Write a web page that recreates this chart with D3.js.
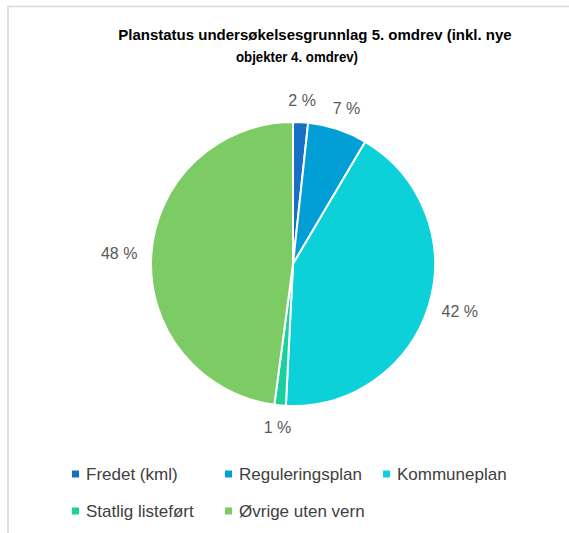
<!DOCTYPE html>
<html>
<head>
<meta charset="utf-8">
<script src="https://cdn.jsdelivr.net/npm/d3@7"></script>
<style>
  body { margin: 0; background: #fff; }
  svg { display: block; font-family: "Liberation Sans", Arial, sans-serif; }
</style>
</head>
<body>
<div id="chart"></div>
<script>
// data
const titleLines = ['Planstatus undersøkelsesgrunnlag 5. omdrev (inkl. nye', 'objekter 4. omdrev)'];
const categories = ['Fredet (kml)', 'Reguleringsplan', 'Kommuneplan', 'Statlig listeført', 'Øvrige uten vern'];
const shares = [1.7, 6.8, 42.3, 1.3, 47.9];
const colors = ['#1570c6', '#029fd6', '#0dd1d9', '#1ad19d', '#7dcb64'];

const width = 569, height = 533;
const cx = 293, cy = 264, r = 142;

const svg = d3.select('#chart').append('svg')
  .attr('width', width)
  .attr('height', height);

// chart frame (only left and top edges are visible in the crop)
svg.append('path')
  .attr('d', `M8,${height} V6.5 H${width}`)
  .attr('fill', 'none')
  .attr('stroke', '#d9d9d9')
  .attr('stroke-width', 1.5);

// title
svg.append('g')
  .selectAll('text')
  .data(titleLines)
  .join('text')
  .attr('x', (d, i) => i === 0 ? 315 : 297)
  .attr('y', (d, i) => 40 + i * 22)
  .attr('text-anchor', 'middle')
  .attr('font-size', 15)
  .attr('font-weight', 'bold')
  .attr('fill', '#000')
  .text(d => d)
  .each(function(d, i) {
    const target = i === 0 ? 435 : 122;
    if (this.getComputedTextLength() > target) {
      d3.select(this).attr('textLength', target).attr('lengthAdjust', 'spacingAndGlyphs');
    }
  });

const pie = d3.pie().sort(null).value(d => d);
const arcs = pie(shares);
const arc = d3.arc().innerRadius(0).outerRadius(r);

const g = svg.append('g').attr('transform', `translate(${cx},${cy})`);

g.selectAll('path')
  .data(arcs)
  .join('path')
  .attr('d', arc)
  .attr('fill', (d, i) => colors[i])
  .attr('stroke', '#fff')
  .attr('stroke-width', 2)
  .attr('stroke-linejoin', 'round');

// data labels, placed just outside the edge like Excel's "best fit"
const gap = 14, halfH = 8;
g.selectAll('text')
  .data(arcs)
  .join('text')
  .attr('font-size', 16)
  .attr('fill', '#595959')
  .attr('text-anchor', 'middle')
  .attr('dominant-baseline', 'central')
  .text(d => Math.round(d.data) + ' %')
  .each(function(d) {
    const a = (d.startAngle + d.endAngle) / 2;
    const hw = this.getComputedTextLength() / 2;
    const s = Math.sin(a), c = Math.cos(a);
    const x = (r + gap) * s + hw * s;
    const y = -(r + gap) * c - halfH * c;
    d3.select(this).attr('x', x).attr('y', y);
  });

// legend
const legendRows = [[0, 1, 2], [3, 4]];
const colX = d3.scaleOrdinal().domain([0, 1, 2]).range([72, 225, 383]);
const rowY = d3.scaleOrdinal().domain([0, 1]).range([474, 511]);

const legendItems = [];
legendRows.forEach((row, ri) => row.forEach((k, ci) => legendItems.push({ k, ri, ci })));

const lg = svg.append('g')
  .selectAll('g')
  .data(legendItems)
  .join('g')
  .attr('transform', d => `translate(${colX(d.ci)},${rowY(d.ri)})`);

lg.append('rect')
  .attr('x', 0)
  .attr('y', -3.5)
  .attr('width', 7)
  .attr('height', 7)
  .attr('fill', d => colors[d.k]);

lg.append('text')
  .attr('x', 14)
  .attr('y', 0)
  .attr('dominant-baseline', 'central')
  .attr('font-size', 17)
  .attr('fill', '#404040')
  .text(d => categories[d.k]);
</script>
</body>
</html>
